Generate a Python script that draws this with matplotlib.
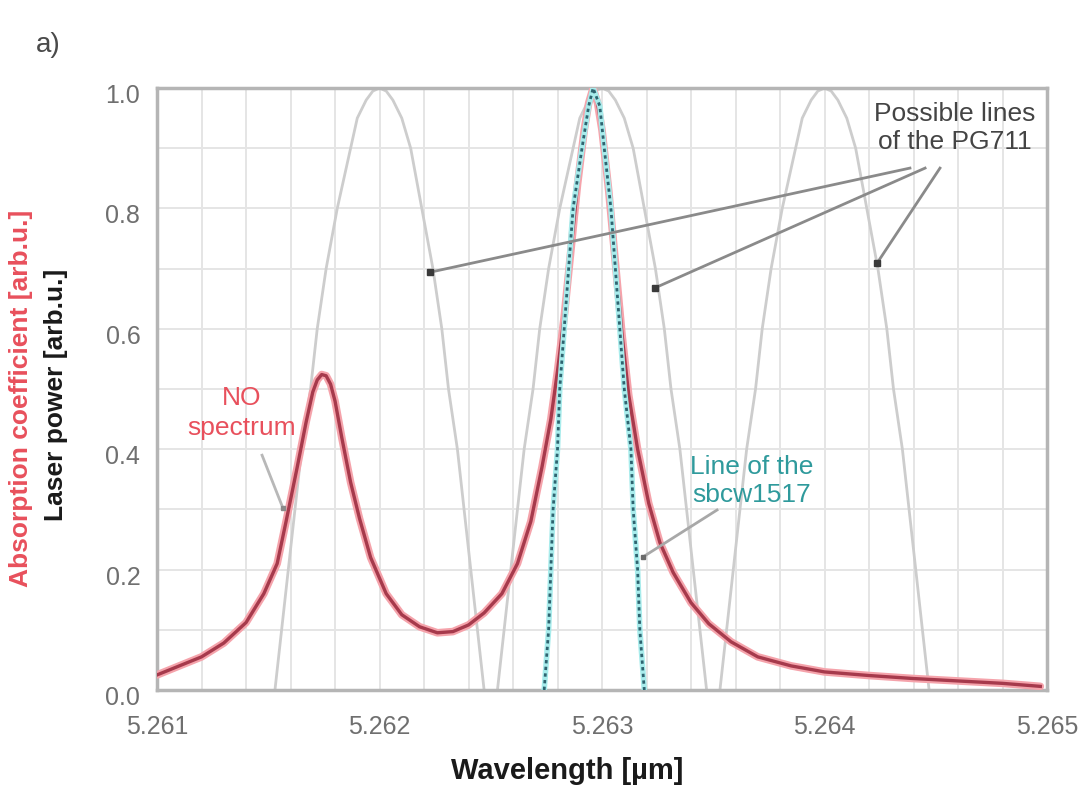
import matplotlib.pyplot as plt
from matplotlib.ticker import MultipleLocator
from matplotlib.transforms import ScaledTranslation

plt.rcParams['font.family'] = ['Liberation Sans', 'DejaVu Sans']

# NO absorption spectrum
no_x = [5.26100, 5.26110, 5.26120, 5.26130, 5.26140, 5.26148, 5.26154, 5.26158,
        5.26163, 5.26167, 5.26170, 5.26172, 5.26174, 5.26176, 5.26178, 5.26180,
        5.26183, 5.26187, 5.26191, 5.26196, 5.26203, 5.26210, 5.26218, 5.26226,
        5.26233, 5.26240, 5.26247, 5.26255, 5.26262, 5.26268, 5.26273, 5.26277,
        5.26280, 5.26283, 5.26286, 5.26289, 5.26292, 5.26294, 5.26296, 5.26298,
        5.26300, 5.26303, 5.26306, 5.26309, 5.26312, 5.26316, 5.26321, 5.26326,
        5.26332, 5.26340, 5.26348, 5.26358, 5.26370, 5.26385, 5.26400, 5.26420,
        5.26440, 5.26460, 5.26480, 5.26497]
no_y = [0.025, 0.040, 0.055, 0.078, 0.112, 0.160, 0.210, 0.280,
        0.370, 0.445, 0.495, 0.515, 0.524, 0.522, 0.508, 0.480,
        0.420, 0.345, 0.285, 0.220, 0.160, 0.125, 0.105, 0.095,
        0.097, 0.108, 0.128, 0.160, 0.210, 0.280, 0.370, 0.450,
        0.530, 0.620, 0.730, 0.840, 0.930, 0.975, 1.000, 0.975,
        0.930, 0.830, 0.710, 0.590, 0.490, 0.400, 0.310, 0.245,
        0.195, 0.145, 0.110, 0.080, 0.055, 0.040, 0.030, 0.024,
        0.019, 0.015, 0.011, 0.006]

# sbcw1517 laser line
sbcw_x = [5.26274, 5.26276, 5.26277, 5.26278, 5.26280, 5.26281, 5.26283, 5.26285,
          5.26287, 5.26291, 5.26294, 5.26296, 5.26299, 5.26301, 5.26304, 5.26308,
          5.26310, 5.26313, 5.26314, 5.26316, 5.26317, 5.26319]
sbcw_y = [0.0, 0.1, 0.2, 0.3, 0.4, 0.5, 0.6, 0.7, 0.8, 0.9, 0.97, 1.0,
          0.97, 0.9, 0.8, 0.6, 0.5, 0.4, 0.3, 0.2, 0.1, 0.0]

# possible PG711 lines
pg_y = [0.0, 0.1, 0.2, 0.3, 0.4, 0.5, 0.6, 0.7, 0.8, 0.9, 0.95, 0.98, 0.995, 1.0,
        0.995, 0.98, 0.95, 0.9, 0.8, 0.7, 0.6, 0.5, 0.4, 0.3, 0.2, 0.1, 0.0]
pg1_x = [5.26153, 5.26156, 5.26159, 5.26162, 5.26165, 5.26169, 5.26172, 5.26176,
         5.26181, 5.26187, 5.26190, 5.26194, 5.26197, 5.26200, 5.26203, 5.26206,
         5.26210, 5.26214, 5.26219, 5.26224, 5.26228, 5.26231, 5.26235, 5.26238,
         5.26241, 5.26244, 5.26247]
pg2_x = [5.26253, 5.26256, 5.26259, 5.26262, 5.26265, 5.26269, 5.26272, 5.26276,
         5.26281, 5.26287, 5.26290, 5.26294, 5.26297, 5.26300, 5.26303, 5.26306,
         5.26310, 5.26314, 5.26319, 5.26324, 5.26328, 5.26331, 5.26335, 5.26338,
         5.26341, 5.26344, 5.26347]
pg3_x = [5.26353, 5.26356, 5.26359, 5.26362, 5.26365, 5.26369, 5.26372, 5.26376,
         5.26381, 5.26387, 5.26390, 5.26394, 5.26397, 5.26400, 5.26403, 5.26406,
         5.26410, 5.26414, 5.26419, 5.26424, 5.26428, 5.26431, 5.26435, 5.26438,
         5.26441, 5.26444, 5.26447]

x_ticks = [5.261, 5.262, 5.263, 5.264, 5.265]
x_tick_labels = ['5.261', '5.262', '5.263', '5.264', '5.265']
y_ticks = [0.0, 0.2, 0.4, 0.6, 0.8, 1.0]

fig = plt.figure(figsize=(10.92, 7.96), dpi=100)
ax = fig.add_axes([0.1438, 0.1332, 0.815, 0.7562])

for px in (pg1_x, pg2_x, pg3_x):
    ax.plot(px, pg_y, color='#cdcdcd', lw=2, zorder=2)

ax.plot(no_x, no_y, color='#f5a3ab', lw=5.5, solid_capstyle='round',
        solid_joinstyle='round', zorder=3)
ax.plot(no_x, no_y, color='#a63a4c', lw=2.4, solid_joinstyle='round', zorder=4)

ax.plot(sbcw_x, sbcw_y, color='#a8ecec', lw=4, zorder=5)
ax.plot(sbcw_x, sbcw_y, color='#2f6470', lw=2, ls=(0, (1.2, 1.2)), zorder=6)

ax.set_xlim(5.261, 5.265)
ax.set_ylim(0, 1.0)
ax.set_xticks(x_ticks)
ax.set_xticklabels(x_tick_labels)
ax.set_yticks(y_ticks)
ax.set_yticklabels([f'{v:.1f}' for v in y_ticks])
ax.xaxis.set_minor_locator(MultipleLocator(0.0002))
ax.yaxis.set_minor_locator(MultipleLocator(0.1))
ax.grid(True, which='both', color='#e5e5e5', lw=1.4, zorder=0)
ax.set_axisbelow(True)
ax.tick_params(which='both', length=0, labelsize=18, colors='#6f6f6f')
ax.tick_params(axis='y', pad=12)
ax.tick_params(axis='x', pad=18)
shift = ScaledTranslation(0, -4 / 72, fig.dpi_scale_trans)
for lab in ax.get_yticklabels():
    lab.set_transform(lab.get_transform() + shift)
for s in ax.spines.values():
    s.set_color('#b5b5b5')
    s.set_linewidth(2.5)

# annotations
ax.text(5.264587, 0.934, 'Possible lines\nof the PG711', ha='center', va='center',
        fontsize=19, color='#444444', linespacing=1.2)
pg_starts = [(5.264384, 0.867), (5.264452, 0.867), (5.264519, 0.867)]
pg_ends = [(5.262227, 0.694), (5.263238, 0.668), (5.264236, 0.709)]
for (x0, y0), (x1, y1) in zip(pg_starts, pg_ends):
    ax.plot([x0, x1], [y0, y1], color='#8a8a8a', lw=2, zorder=7)
    ax.plot(x1, y1, marker='s', ms=4, color='#3a3a3a', zorder=8)

ax.text(5.261382, 0.46, 'NO\nspectrum', ha='center', va='center',
        fontsize=19, color='#e8505c', linespacing=1.3, zorder=9)
ax.plot([5.261472, 5.261566], [0.39, 0.302], color='#b8b8b8', lw=2, zorder=7)
ax.plot(5.261566, 0.302, marker='s', ms=3.5, color='#8a8a8a', zorder=8)

ax.text(5.263674, 0.347, 'Line of the\nsbcw1517', ha='center', va='center',
        fontsize=19, color='#2f9a9c', linespacing=1.2, zorder=9)
ax.plot([5.263517, 5.263184], [0.299, 0.221], color='#a8a8a8', lw=2, zorder=7)
ax.plot(5.263184, 0.221, marker='s', ms=3.5, color='#6a6a6a', zorder=8)

fig.text(567 / 1092, 1 - 771 / 796, 'Wavelength [\u00b5m]', ha='center', va='center',
         fontsize=21, fontweight='bold', color='#1a1a1a')
fig.text(21 / 1092, 1 - 398 / 796, 'Absorption coefficient [arb.u.]', rotation=90,
         ha='center', va='center', fontsize=19, fontweight='bold', color='#e8505c')
fig.text(56 / 1092, 1 - 395 / 796, 'Laser power [arb.u.]', rotation=90,
         ha='center', va='center', fontsize=19, fontweight='bold', color='#1a1a1a')
fig.text(48 / 1092, 1 - 45 / 796, 'a)', ha='center', va='center',
         fontsize=20, color='#4a4a4a')

fig.savefig('out.png', dpi=100)
